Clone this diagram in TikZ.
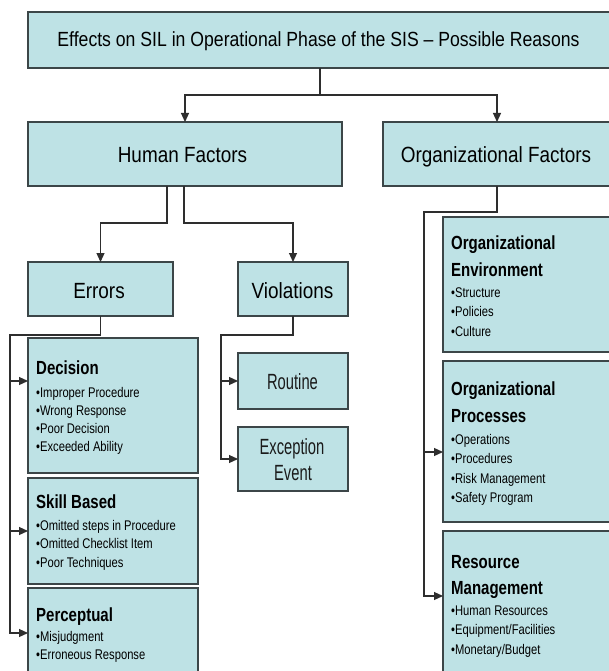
\documentclass[tikz,border=0pt]{standalone}
\usepackage{fontspec}
\setmainfont{Liberation Sans}
\newfontfamily\labfont[FakeStretch=0.86]{Liberation Sans}
\newfontfamily\narrowfont[FakeStretch=0.67]{Liberation Sans}
\newfontfamily\itemfont[FakeStretch=0.8]{Liberation Sans}
\newfontfamily\headfont[FakeStretch=0.79]{Liberation Sans}
\usetikzlibrary{arrows.meta,calc}
\definecolor{boxfill}{HTML}{BEE2E5}
\definecolor{boxline}{HTML}{3C4648}
\definecolor{wirecol}{HTML}{2E2E2E}
\definecolor{inkcol}{HTML}{1A1A1A}

\begin{document}
\begin{tikzpicture}[x=1pt,y=-1pt,
  box/.style={draw=boxline, fill=boxfill, line width=1.2pt, rectangle,
    inner sep=0pt, outer sep=0pt, anchor=north west},
  link/.style={draw=wirecol, line width=1.2pt},
  arrowlink/.style={link, -{Triangle[length=9pt,width=8pt]}},
  lbl/.style={font=\labfont\fontsize{22pt}{26pt}\selectfont, anchor=base, inner sep=0pt},
  ttl/.style={lbl, font=\labfont\fontsize{20.5pt}{24pt}\selectfont},
  nar/.style={font=\narrowfont\fontsize{22pt}{26pt}\selectfont, anchor=base,
    inner sep=0pt, text=inkcol},
  head/.style={font=\headfont\bfseries\fontsize{19pt}{22pt}\selectfont,
    anchor=base west, inner sep=0pt},
  itm/.style={font=\itemfont\fontsize{14pt}{17pt}\selectfont,
    anchor=base west, inner sep=0pt}]
\useasboundingbox (0,0) rectangle (609,671);
\fill[white] (0,0) rectangle (609,671);

% boxes
\node[box, minimum width=584pt, minimum height=56pt]  (title) at (28,12) {};
\node[box, minimum width=314pt, minimum height=64pt]  (hf)    at (28,122) {};
\node[box, minimum width=228pt, minimum height=64pt]  (of)    at (383,122) {};
\node[box, minimum width=145pt, minimum height=54pt]  (err)   at (28,262) {};
\node[box, minimum width=110pt, minimum height=54pt]  (vio)   at (238,262) {};
\node[box, minimum width=170pt, minimum height=135pt] (dec)   at (28,338) {};
\node[box, minimum width=170pt, minimum height=106pt] (skl)   at (28,478) {};
\node[box, minimum width=170pt, minimum height=90pt]  (per)   at (28,588) {};
\node[box, minimum width=110pt, minimum height=56pt]  (rou)   at (238,353) {};
\node[box, minimum width=110pt, minimum height=64pt]  (exc)   at (238,427) {};
\node[box, minimum width=170pt, minimum height=135pt] (oenv)  at (443,217) {};
\node[box, minimum width=170pt, minimum height=161pt] (oproc) at (443,361) {};
\node[box, minimum width=170pt, minimum height=150pt] (rmgt)  at (443,531) {};

% connectors: top level
\draw[link] (title.south) -- ++(0,27) coordinate (tj);
\draw[arrowlink] (tj) -| (hf.north);
\draw[arrowlink] (tj) -| (of.north);

% human factors branches
\coordinate (hfl) at ($(hf.south)+(-18,0)$);
\coordinate (hfr) at ($(hf.south)+(-1,0)$);
\draw[arrowlink] (hfl) -- ++(0,37) -| (err.north);
\draw[arrowlink] (hfr) -- ++(0,37) -| (vio.north);

% errors
\coordinate (ej) at (10,335);
\coordinate (decin) at ($(dec.north west)+(0,43)$);
\draw[arrowlink] (err.south) |- (ej) |- (per.west);
\draw[arrowlink] (ej |- skl.west) -- (skl.west);
\draw[arrowlink] (ej |- decin) -- (decin);

% violations
\coordinate (vj) at (221,335);
\draw[arrowlink] (vio.south) |- (vj) |- (exc.west);
\draw[arrowlink] (vj |- rou.west) -- (rou.west);

% organizational factors
\coordinate (oj) at (424,212);
\coordinate (opin) at ($(oproc.north west)+(0,91)$);
\coordinate (rmin) at ($(rmgt.north west)+(0,65)$);
\draw[arrowlink] (of.south) |- (oj) |- (rmin);
\draw[arrowlink] (oj |- opin) -- (opin);

% centred labels
\node[ttl] (titletxt) at (318.5,47) {Effects on SIL in Operational Phase of the SIS – Possible Reasons};
\node[lbl] (hftxt) at (182.5,163) {Human Factors};
\node[lbl] (oftxt) at (496,162.5) {Organizational Factors};
\node[lbl] (errtxt) at (99,298) {Errors};
\node[lbl] (viotxt) at (292.5,298) {Violations};
\node[nar] (routxt) at (292.5,389) {Routine};
\node[nar] (exctxt) at (292,454) {Exception};
\node[nar] (evttxt) at (293,480) {Event};

% error categories
\node[head] (dechd) at (36,374) {Decision};
\foreach \t [count=\i] in {Improper Procedure,Wrong Response,Poor Decision,Exceeded Ability}
  \node[itm] (dec-\i) at (36,{379+18*\i}) {•\t};
\node[head] (sklhd) at (36,508) {Skill Based};
\foreach \t [count=\i] in {Omitted steps in Procedure,Omitted Checklist Item,Poor Techniques}
  \node[itm] (skl-\i) at (36,{511.5+18.5*\i}) {•\t};
\node[head] (perhd) at (36,621) {Perceptual};
\foreach \t [count=\i] in {Misjudgment,Erroneous Response}
  \node[itm] (per-\i) at (36,{623+18*\i}) {•\t};

% organizational categories
\node[head] (oenvhd) at (451,249) {Organizational};
\node[head] (oenvhdb) at (451,276) {Environment};
\foreach \t [count=\i] in {Structure,Policies,Culture}
  \node[itm] (oenv-\i) at (451,{277.5+19.5*\i}) {•\t};
\node[head] (oprochd) at (451,395) {Organizational};
\node[head] (oprochdb) at (451,422) {Processes};
\foreach \t [count=\i] in {Operations,Procedures,Risk Management,Safety Program}
  \node[itm] (oproc-\i) at (451,{424.5+19.5*\i}) {•\t};
\node[head] (rmgthd) at (451,568) {Resource};
\node[head] (rmgthdb) at (451,594) {Management};
\foreach \t [count=\i] in {Human Resources,Equipment/Facilities,Monetary/Budget}
  \node[itm] (rmgt-\i) at (451,{595.5+19.5*\i}) {•\t};
\end{tikzpicture}
\end{document}
